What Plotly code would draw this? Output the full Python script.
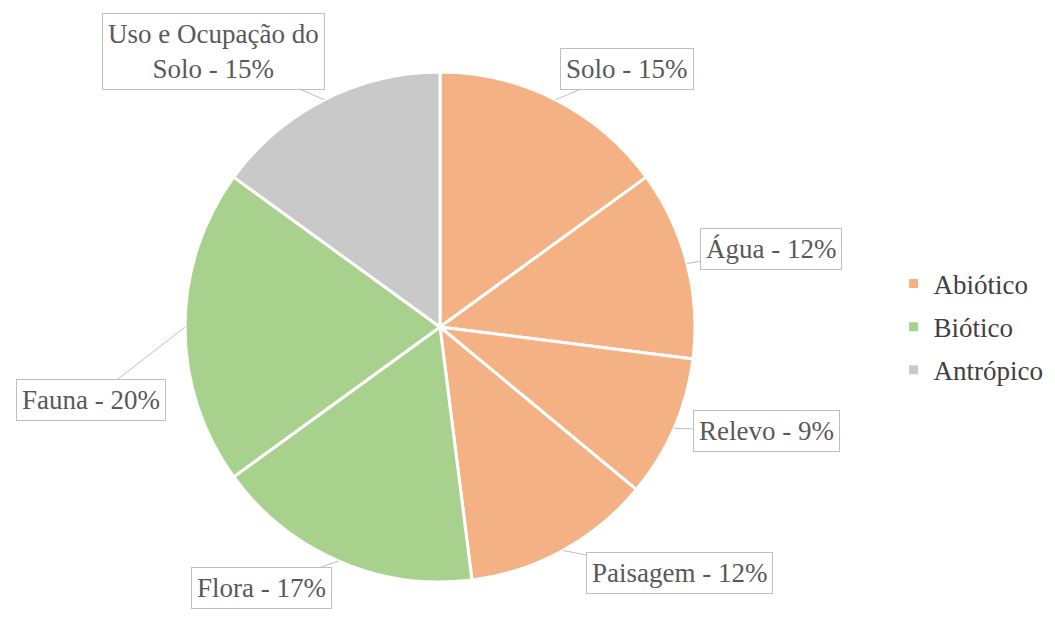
import math
import plotly.graph_objects as go

# ---- data ----
labels = ["Solo", "Água", "Relevo", "Paisagem", "Flora", "Fauna", "Uso e Ocupação do Solo"]
values = [15, 12, 9, 12, 17, 20, 15]
groups = ["Abiótico", "Abiótico", "Abiótico", "Abiótico", "Biótico", "Biótico", "Antrópico"]
group_names = ["Abiótico", "Biótico", "Antrópico"]
group_colors = {"Abiótico": "#F4B183", "Biótico": "#A9D18E", "Antrópico": "#C9C9C9"}
label_text = ["Solo - 15%", "Água - 12%", "Relevo - 9%", "Paisagem - 12%",
              "Flora - 17%", "Fauna - 20%", "Uso e Ocupação do<br>Solo - 15%"]

W, H = 1055, 617
CX, CY, R = 440, 327, 255
FONT = "Times New Roman, Liberation Serif, DejaVu Serif, serif"

# label box centres (pixel layout positions)
label_pos = [(627, 69), (771, 249), (766, 431), (679, 573), (261, 588), (91, 400), (213, 51)]

fig = go.Figure()
fig.add_trace(go.Pie(
    labels=labels, values=values, sort=False, direction="clockwise", rotation=0,
    marker=dict(colors=[group_colors[g] for g in groups], line=dict(color="white", width=3)),
    textinfo="none", hoverinfo="label+percent", showlegend=False,
    domain=dict(x=[(CX - R) / W, (CX + R) / W], y=[(H - CY - R) / H, (H - CY + R) / H]),
))

for g in group_names:
    fig.add_trace(go.Scatter(
        x=[None], y=[None], mode="markers", name=g, legendgroup=g,
        marker=dict(symbol="square", size=9, color=group_colors[g]),
    ))

total = sum(values)
cum = 0
for v, txt, (tx, ty) in zip(values, label_text, label_pos):
    mid = (cum + v / 2) / total * 2 * math.pi
    cum += v
    px = CX + R * math.sin(mid)
    py = CY - R * math.cos(mid)
    fig.add_annotation(
        x=px, y=py, xref="x", yref="y", ax=tx, ay=ty, axref="x", ayref="y",
        text=txt, showarrow=True, arrowhead=0, arrowwidth=1, arrowcolor="#BFBFBF",
        font=dict(family=FONT, size=27, color="#595959"),
        bgcolor="white", bordercolor="#BFBFBF", borderwidth=1, borderpad=5,
    )

fig.update_layout(
    width=W, height=H, margin=dict(l=0, r=0, t=0, b=0),
    paper_bgcolor="white", plot_bgcolor="rgba(0,0,0,0)",
    font=dict(family=FONT),
    xaxis=dict(range=[0, W], visible=False, domain=[0, 1], fixedrange=True),
    yaxis=dict(range=[H, 0], visible=False, domain=[0, 1], fixedrange=True),
    legend=dict(x=0.847, y=0.47, xanchor="left", yanchor="middle",
                font=dict(family=FONT, size=27, color="#404040"),
                tracegroupgap=5, traceorder="grouped", itemwidth=30),
    showlegend=True,
)

fig.write_html("out.html")
